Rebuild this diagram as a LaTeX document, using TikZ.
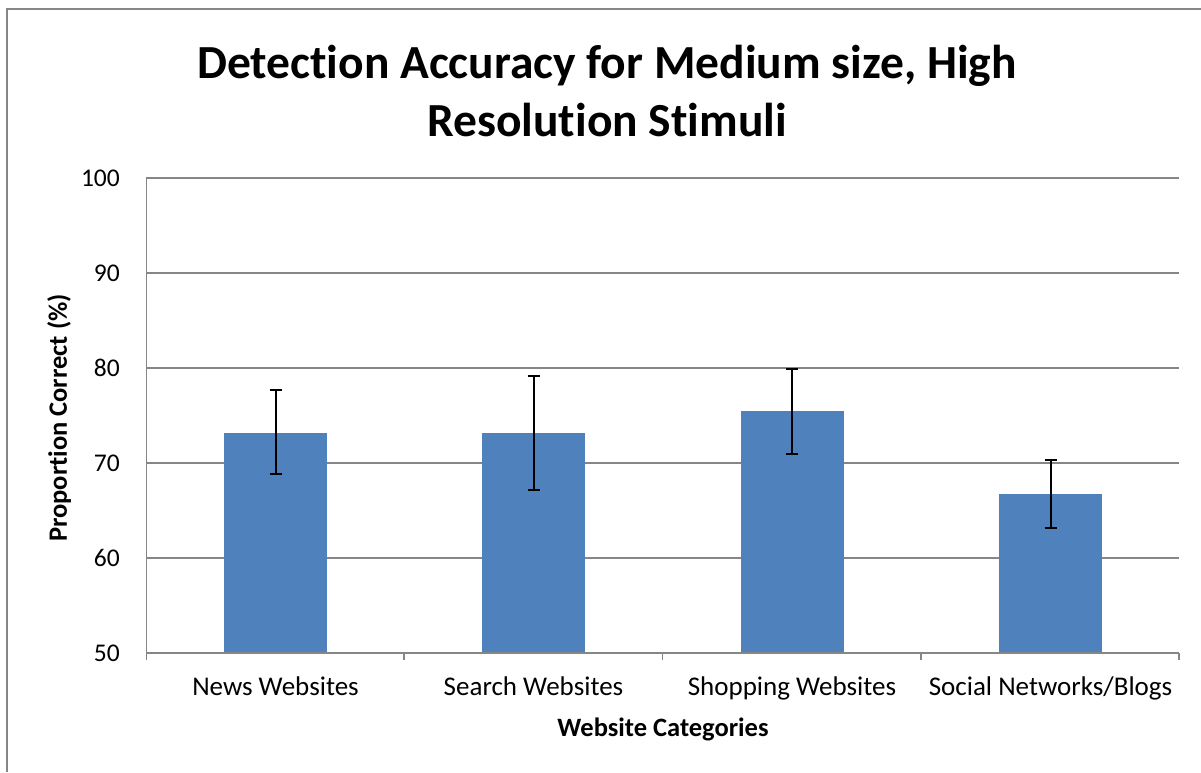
\documentclass[tikz,border=0pt]{standalone}
\usepackage{fontspec}
\setmainfont{Carlito}[Ligatures=NoCommon]

\definecolor{gridgray}{RGB}{134,134,134}
\definecolor{barblue}{RGB}{79,129,189}

% value (in %) to vertical position
\newcommand{\val}[1]{653-(#1-50)*9.5}

\tikzset{
  gridline/.style={gridgray, line width=1.8pt},
  barfill/.style={fill=barblue},
  errbar/.style={black, line width=2pt},
  ticklabel/.style={font=\fontsize{25.5}{30}\selectfont, anchor=east, inner sep=0pt},
  catlabel/.style={font=\fontsize{27}{32}\selectfont, anchor=base, inner sep=0pt},
  axistitle/.style={font=\fontsize{26.5}{32}\selectfont\bfseries, inner sep=0pt},
  titletext/.style={font=\fontsize{47.5}{58}\selectfont\bfseries, anchor=base, inner sep=0pt}
}

\begin{document}
\begin{tikzpicture}[x=1pt, y=-1pt]
        \useasboundingbox (0,0) rectangle (1201,772);

        % Chart frame
        \draw[gridgray, line width=2pt] (1201,8.5) -- (7,8.5) -- (7,772);

        % Title
        \node[titletext] (titlea) at (607,78) {Detection Accuracy for Medium size, High};
        \node[titletext] (titleb) at (607,136) {Resolution Stimuli};

        % Horizontal grid lines
        \draw[gridline] (146,{\val{100}}) -- (1179,{\val{100}});
        \draw[gridline] (146,{\val{90}}) -- (1179,{\val{90}});
        \draw[gridline] (146,{\val{80}}) -- (1179,{\val{80}});
        \draw[gridline] (146,{\val{70}}) -- (1179,{\val{70}});
        \draw[gridline] (146,{\val{60}}) -- (1179,{\val{60}});

        % Bars
        \fill[barfill] (224,653) rectangle (327,{\val{73.2}});
        \fill[barfill] (482,653) rectangle (585,{\val{73.2}});
        \fill[barfill] (740.5,653) rectangle (843.5,{\val{75.45}});
        \fill[barfill] (999,653) rectangle (1102,{\val{66.7}});

        % Error bars
        \draw[errbar] (269.5,{\val{77.7}}) -- (281.5,{\val{77.7}})
                      (275.5,{\val{77.7}}) -- (275.5,{\val{68.8}})
                      (269.5,{\val{68.8}}) -- (281.5,{\val{68.8}});
        \draw[errbar] (527.5,{\val{79.2}}) -- (539.5,{\val{79.2}})
                      (533.5,{\val{79.2}}) -- (533.5,{\val{67.2}})
                      (527.5,{\val{67.2}}) -- (539.5,{\val{67.2}});
        \draw[errbar] (786,{\val{79.9}}) -- (798,{\val{79.9}})
                      (792,{\val{79.9}}) -- (792,{\val{70.95}})
                      (786,{\val{70.95}}) -- (798,{\val{70.95}});
        \draw[errbar] (1044.5,{\val{70.3}}) -- (1056.5,{\val{70.3}})
                      (1050.5,{\val{70.3}}) -- (1050.5,{\val{63.2}})
                      (1044.5,{\val{63.2}}) -- (1056.5,{\val{63.2}});

        % Axes and category ticks
        \draw[gridline] (146.5,{\val{100}}) -- (146.5,660);
        \draw[gridline] (146,653) -- (1179,653);
        \draw[gridline] (404.25,653) -- (404.25,660);
        \draw[gridline] (662.5,653) -- (662.5,660);
        \draw[gridline] (920.75,653) -- (920.75,660);
        \draw[gridline] (1179,653) -- (1179,660);

        % Value labels
        \node[ticklabel] (lab100) at (120,{\val{100}}) {100};
        \node[ticklabel] (lab90) at (120,{\val{90}}) {90};
        \node[ticklabel] (lab80) at (120,{\val{80}}) {80};
        \node[ticklabel] (lab70) at (120,{\val{70}}) {70};
        \node[ticklabel] (lab60) at (120,{\val{60}}) {60};
        \node[ticklabel] (lab50) at (120,{\val{50}}) {50};

        % Category labels
        \node[catlabel] (news) at (275.5,695) {News Websites};
        \node[catlabel] (search) at (533.5,695) {Search Websites};
        \node[catlabel] (shopping) at (792,695) {Shopping Websites};
        \node[catlabel] (social) at (1050.5,695) {Social Networks/Blogs};

        % Axis titles
        \node[axistitle, anchor=base] (xtitle) at (663,736) {Website Categories};
        \node[axistitle, rotate=90] (ytitle) at (59,418) {Proportion Correct (\%)};
\end{tikzpicture}
\end{document}
